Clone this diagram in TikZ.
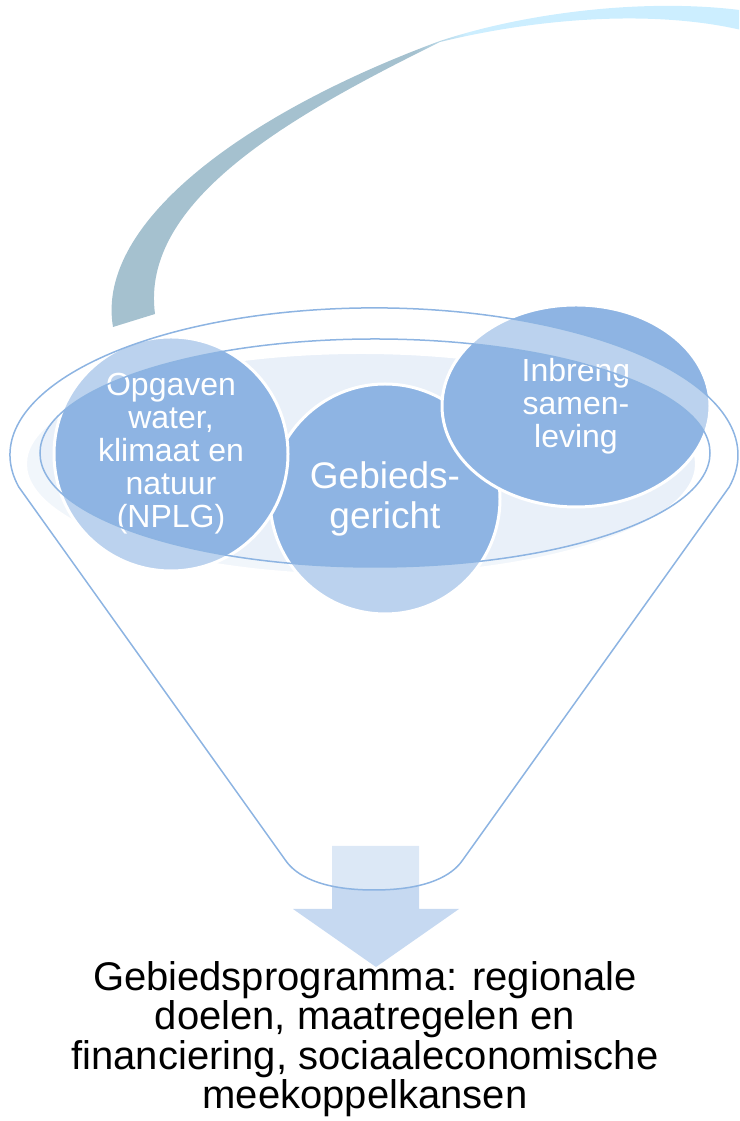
\documentclass[tikz,border=0pt]{standalone}
\usepackage{fontspec}
\setmainfont{Liberation Sans}
\usetikzlibrary{shapes.geometric}

\definecolor{bubblefill}{RGB}{142,180,227}
\definecolor{bowlfill}{RGB}{233,240,249}
\definecolor{funnelline}{RGB}{141,180,226}
\definecolor{arrowfill}{RGB}{198,217,241}
\definecolor{swgrey}{RGB}{165,193,207}
\definecolor{swcyan}{RGB}{204,238,255}

\pgfdeclarehorizontalshading{swoosh}{100bp}{color(0bp)=(swgrey); color(49bp)=(swgrey);
  color(53bp)=(swcyan); color(100bp)=(swcyan)}

\tikzset{%
  bubble/.style={draw=white, line width=3pt, fill=bubblefill, text=white,
    inner sep=0pt, align=center}, % the three circles in the funnel
  funnelbody/.style={draw=funnelline, line width=1.5pt, fill=white,
    fill opacity=0.4, even odd rule}
}

\begin{document}
\begin{tikzpicture}[x=1pt, y=1pt]
  \useasboundingbox (0,0) rectangle (739,1121);
  \clip (0,0) rectangle (739,1121);
  % swoosh on top
  \shade[shading=swoosh] (113,794) .. controls (95,900) and (250,1010) .. (440,1080)
    .. controls (530,1110) and (660,1125) .. (760,1108) -- (760,1086)
    .. controls (680,1110) and (560,1108) .. (440,1079)
    .. controls (290,1005) and (140,920) .. (155,807) -- cycle;
  % arrow out of the funnel
  \fill[arrowfill] (332,275) -- (419,275) -- (419,212) -- (459,212) -- (376,154)
    -- (293,212) -- (332,212) -- cycle;
  \draw[white, line width=4pt, fill=bowlfill] (361,657) ellipse [x radius=336, y radius=112];
  \node[bubble, circle, minimum size=230pt, font=\fontsize{37}{40}\selectfont] (gebied) at (385,622) {Gebieds-\\gericht};
  \node[bubble, circle, minimum size=234pt, font=\fontsize{32}{33}\selectfont] (opgaven) at (171,667) {Opgaven\\water,\\klimaat en\\natuur\\(NPLG)};
  \node[bubble, ellipse, minimum width=268pt, minimum height=202pt, font=\fontsize{32}{33}\selectfont] (inbreng) at (576,715) {Inbreng\\samen-\\leving};
  % funnel
  \path[funnelbody] (286,260) -- (18.8,634)
    arc[start angle=192.6, end angle=-12.6, x radius=364, y radius=147]
    -- (462,260) .. controls (452,246) and (428,231) .. (374,231)
    .. controls (320,231) and (296,246) .. (286,260) -- cycle
    (375,668) ellipse [x radius=335, y radius=114];
  \node[font=\fontsize{40}{39.5}\selectfont, align=center, anchor=north, inner sep=0pt] (programma) at (365,160)
    {Gebiedsprogramma: regionale\\doelen, maatregelen en\\financiering, sociaaleconomische\\meekoppelkansen};
\end{tikzpicture}
\end{document}
